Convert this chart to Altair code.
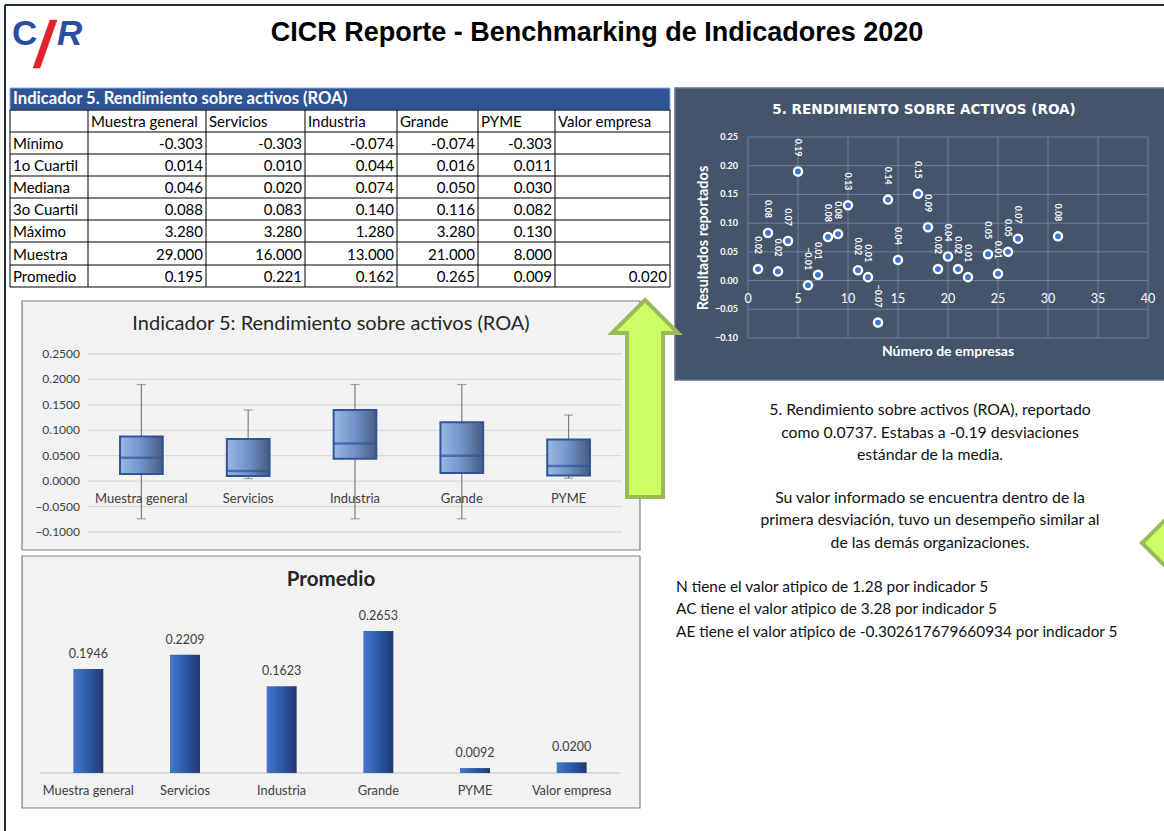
import altair as alt
import pandas as pd

W, H = 1164, 831
CAL = "Lato"
ARIAL = "Liberation Sans"

# ---------------- data ----------------
grupos = ["Muestra general", "Servicios", "Industria", "Grande", "PYME"]
col_headers = grupos + ["Valor empresa"]
row_labels = ["Mínimo", "1o Cuartil", "Mediana", "3o Cuartil", "Máximo", "Muestra", "Promedio"]
minimo = [-0.303, -0.303, -0.074, -0.074, -0.303]
cuartil1 = [0.014, 0.010, 0.044, 0.016, 0.011]
mediana = [0.046, 0.020, 0.074, 0.050, 0.030]
cuartil3 = [0.088, 0.083, 0.140, 0.116, 0.082]
maximo = [3.280, 3.280, 1.280, 3.280, 0.130]
muestra = [29, 16, 13, 21, 8]
promedio_tabla = [0.195, 0.221, 0.162, 0.265, 0.009]
valor_empresa_tabla = 0.020

bigote_inf = [-0.074, 0.005, -0.074, -0.074, 0.006]
bigote_sup = [0.19, 0.14, 0.19, 0.19, 0.13]
box_ticks = [-0.10, -0.05, 0.0, 0.05, 0.10, 0.15, 0.20, 0.25]

prom_cats = grupos + ["Valor empresa"]
prom_vals = [0.1946, 0.2209, 0.1623, 0.2653, 0.0092, 0.0200]

emp_num = [1, 2, 3, 4, 5, 6, 7, 8, 9, 10, 11, 12, 13, 14, 15, 17, 18, 19, 20, 21, 22, 24, 25, 26, 27, 31]
emp_val = [0.020, 0.083, 0.016, 0.069, 0.190, -0.008, 0.010, 0.076, 0.081, 0.131, 0.018, 0.006, -0.073,
           0.141, 0.036, 0.151, 0.093, 0.020, 0.042, 0.020, 0.006, 0.046, 0.012, 0.050, 0.073, 0.077]
sc_xticks = [0, 5, 10, 15, 20, 25, 30, 35, 40]
sc_yticks = [-0.10, -0.05, 0.0, 0.05, 0.10, 0.15, 0.20, 0.25]

titulo = "CICR Reporte - Benchmarking de Indicadores 2020"
tabla_titulo = "Indicador 5.  Rendimiento sobre activos (ROA)"
box_titulo = "Indicador 5: Rendimiento sobre activos (ROA)"
bar_titulo = "Promedio"
sc_titulo = "5. RENDIMIENTO SOBRE ACTIVOS (ROA)"
sc_xtitle = "Número de empresas"
sc_ytitle = "Resultados reportados"
texto_centro = ["5. Rendimiento sobre activos (ROA), reportado",
                "como 0.0737. Estabas a -0.19 desviaciones",
                "estándar de la media.",
                "Su valor informado se encuentra dentro de la",
                "primera desviación, tuvo un desempeño similar al",
                "de las demás organizaciones."]
texto_atipicos = ["N tiene el valor atipico de 1.28 por indicador 5",
                  "AC tiene el valor atipico de 3.28 por indicador 5",
                  "AE tiene el valor atipico de -0.302617679660934 por indicador 5"]

# ---------------- layout ----------------
col_edges = [10, 88, 206, 305, 397, 478, 555, 670]
row_edges = [110, 132, 154, 176, 198, 220, 242, 265, 287]


def PXs():
    return alt.Scale(domain=[0, W], range=[0, W], nice=False, zero=False)


def PYs():
    return alt.Scale(domain=[0, H], range=[0, H], nice=False, zero=False)


def ptext(rows, **kw):
    df = pd.DataFrame(rows, columns=["x", "y", "t"])
    base = dict(font=CAL, fontSize=14, color="#000000", baseline="middle", align="left")
    base.update(kw)
    return alt.Chart(df).mark_text(**base).encode(
        x=alt.X("x:Q", scale=PXs(), axis=None),
        y=alt.Y("y:Q", scale=PYs(), axis=None),
        text="t:N")


def prect(rows, **kw):
    df = pd.DataFrame(rows, columns=["x0", "y0", "x1", "y1"])
    return alt.Chart(df).mark_rect(**kw).encode(
        x=alt.X("x0:Q", scale=PXs(), axis=None), x2="x1:Q",
        y=alt.Y("y0:Q", scale=PYs(), axis=None), y2="y1:Q")


def prule(rows, **kw):
    df = pd.DataFrame(rows, columns=["x0", "y0", "x1", "y1"])
    return alt.Chart(df).mark_rule(**kw).encode(
        x=alt.X("x0:Q", scale=PXs(), axis=None), x2="x1:Q",
        y=alt.Y("y0:Q", scale=PYs(), axis=None), y2="y1:Q")


def pshape(x, y, path, size, **kw):
    df = pd.DataFrame({"x": [x], "y": [y]})
    return alt.Chart(df).mark_point(shape=path, size=size, filled=True, opacity=1, **kw).encode(
        x=alt.X("x:Q", scale=PXs(), axis=None),
        y=alt.Y("y:Q", scale=PYs(), axis=None))


layers = []

# page border
layers.append(prule([(5, 5, W, 5), (5, 5, 5, H)], color="#1D2B3A", strokeWidth=2))

# logo + title
layers.append(ptext([(12, 45, "C")], font=ARIAL, fontSize=35, fontWeight="bold",
                    color="#2B4FA0", baseline="alphabetic"))
layers.append(pshape(45, 44, "M0.2,-0.96 L0.48,-0.96 L-0.2,0.96 L-0.48,0.96 Z", 2500,
                     fill="#E3202B", stroke="#E3202B", strokeWidth=0.5))
layers.append(ptext([(57, 45, "R")], font=ARIAL, fontSize=35, fontWeight="bold", fontStyle="italic",
                    color="#2B4FA0", baseline="alphabetic"))
layers.append(ptext([(597, 33, titulo)], font=ARIAL, fontSize=27, fontWeight="bold", align="center"))

# ---------------- table ----------------
layers.append(prect([(col_edges[0], 88, col_edges[-1], row_edges[0])], fill="#2F5496",
                    stroke="#8EA9DB", strokeWidth=1))
layers.append(ptext([(col_edges[0] + 3, 99, tabla_titulo)], fontSize=16.6, fontWeight="bold", color="#FFFFFF"))
grid_rows = [(col_edges[0], r, col_edges[-1], r) for r in row_edges]
grid_rows += [(c, row_edges[0], c, row_edges[-1]) for c in col_edges]
layers.append(prule(grid_rows, color="#000000", strokeWidth=1))

hdr = [(col_edges[i + 1] + 3, (row_edges[0] + row_edges[1]) / 2 + 1, h) for i, h in enumerate(col_headers)]
lab = [(col_edges[0] + 3, (row_edges[i + 1] + row_edges[i + 2]) / 2 + 1, r) for i, r in enumerate(row_labels)]
layers.append(ptext(hdr + lab, fontSize=15))

series = [minimo, cuartil1, mediana, cuartil3, maximo, muestra, promedio_tabla]
nums = []
for i, vals in enumerate(series):
    yc = (row_edges[i + 1] + row_edges[i + 2]) / 2 + 1
    for j, v in enumerate(vals):
        nums.append((col_edges[j + 2] - 3, yc, f"{v:.3f}"))
nums.append((col_edges[-1] - 3, (row_edges[-2] + row_edges[-1]) / 2 + 1, f"{valor_empresa_tabla:.3f}"))
layers.append(ptext(nums, fontSize=15, align="right"))

# ---------------- panels ----------------
layers.append(prect([(22, 301, 640, 550), (22, 556, 640, 808)], fill="#F2F2F2",
                    stroke="#7F7F7F", strokeWidth=1.2))
layers.append(prect([(675, 88, W + 2, 380)], fill="#44546A", stroke="#5E7291", strokeWidth=1.5))

# ---------------- box plot ----------------
def BXX():
    return alt.Scale(domain=grupos, range=[88, 622], paddingInner=0.6, paddingOuter=0.3)


def BXY():
    return alt.Scale(domain=[-0.10, 0.25], range=[532, 354], nice=False, zero=False)


layers.append(ptext([(331, 324, box_titulo)], fontSize=20, align="center", color="#262626"))
btk = pd.DataFrame({"v": box_ticks})
layers.append(alt.Chart(btk).mark_rule(color="#D9D9D9", strokeWidth=1.3).encode(
    y=alt.Y("v:Q", scale=BXY(), axis=None), x=alt.value(88), x2=alt.value(622)))
layers.append(alt.Chart(btk).mark_text(align="right", baseline="middle", font=CAL, fontSize=12,
                                       color="#404040").encode(
    y=alt.Y("v:Q", scale=BXY(), axis=None), x=alt.value(80), text=alt.Text("v:Q", format=".4f")))

box_df = pd.DataFrame({"g": grupos, "lo": bigote_inf, "hi": bigote_sup,
                       "q1": cuartil1, "med": mediana, "q3": cuartil3})
layers.append(alt.Chart(box_df).mark_rule(color="#7F7F7F", strokeWidth=1.2).encode(
    x=alt.X("g:N", scale=BXX(), axis=None), y=alt.Y("lo:Q", scale=BXY(), axis=None), y2="hi:Q"))
caps = pd.DataFrame({"g": grupos * 2, "v": bigote_inf + bigote_sup})
layers.append(alt.Chart(caps).mark_tick(color="#7F7F7F", size=9, thickness=1.2).encode(
    x=alt.X("g:N", scale=BXX(), axis=None), y=alt.Y("v:Q", scale=BXY(), axis=None)))
box_grad = alt.Gradient(gradient="linear",
                        stops=[alt.GradientStop(color="#9BB9E6", offset=0),
                               alt.GradientStop(color="#7092C8", offset=0.5),
                               alt.GradientStop(color="#485C82", offset=1)],
                        x1=0, x2=1, y1=0, y2=0)
layers.append(alt.Chart(box_df).mark_bar(fill=box_grad, stroke="#2F5597", strokeWidth=2).encode(
    x=alt.X("g:N", scale=BXX(), axis=None), y=alt.Y("q1:Q", scale=BXY(), axis=None), y2="q3:Q"))
layers.append(alt.Chart(box_df).mark_tick(color="#2F5597", size=43, thickness=2.5).encode(
    x=alt.X("g:N", scale=BXX(), axis=None), y=alt.Y("med:Q", scale=BXY(), axis=None)))
layers.append(alt.Chart(box_df).mark_text(font=CAL, fontSize=13, color="#404040", baseline="middle").encode(
    x=alt.X("g:N", scale=BXX(), axis=None), y=alt.value(499), text="g:N"))

# ---------------- bar chart ----------------
def BRX():
    return alt.Scale(domain=prom_cats, range=[40, 620], paddingInner=0.69, paddingOuter=0.345)


def BRY():
    return alt.Scale(domain=[0, 0.30], range=[773, 612.5], nice=False, zero=True)


layers.append(ptext([(331, 580, bar_titulo)], fontSize=20.5, fontWeight="bold", align="center", color="#262626"))
bar_df = pd.DataFrame({"c": prom_cats, "v": prom_vals})
bar_grad = alt.Gradient(gradient="linear",
                        stops=[alt.GradientStop(color="#4577CF", offset=0),
                               alt.GradientStop(color="#2E58A8", offset=0.5),
                               alt.GradientStop(color="#1F3A70", offset=1)],
                        x1=0, x2=1, y1=0, y2=0)
layers.append(alt.Chart(bar_df).mark_rule(color="#D9D9D9", strokeWidth=1.2).encode(
    y=alt.value(773), x=alt.value(40), x2=alt.value(620)))
layers.append(alt.Chart(bar_df).mark_bar(fill=bar_grad).encode(
    x=alt.X("c:N", scale=BRX(), axis=None), y=alt.Y("v:Q", scale=BRY(), axis=None)))
layers.append(alt.Chart(bar_df).mark_text(font=CAL, fontSize=12.5, color="#404040", baseline="middle",
                                          yOffset=-15).encode(
    x=alt.X("c:N", scale=BRX(), axis=None), y=alt.Y("v:Q", scale=BRY(), axis=None),
    text=alt.Text("v:Q", format=".4f")))
layers.append(alt.Chart(bar_df).mark_text(font=CAL, fontSize=12.8, color="#404040", baseline="middle").encode(
    x=alt.X("c:N", scale=BRX(), axis=None), y=alt.value(791), text="c:N"))

# ---------------- scatter ----------------
def SCX():
    return alt.Scale(domain=[0, 40], range=[748, 1148], nice=False, zero=False)


def SCY():
    return alt.Scale(domain=[-0.10, 0.25], range=[338, 137], nice=False, zero=False)


layers.append(ptext([(924, 110, sc_titulo)], font="DejaVu Sans", fontSize=13.6, fontWeight="bold",
                    align="center", color="#FFFFFF"))
sxt = pd.DataFrame({"v": sc_xticks})
syt = pd.DataFrame({"v": sc_yticks})
layers.append(alt.Chart(sxt).mark_rule(color="#76849A", strokeWidth=0.9).encode(
    x=alt.X("v:Q", scale=SCX(), axis=None), y=alt.value(137), y2=alt.value(338)))
layers.append(alt.Chart(syt).mark_rule(color="#76849A", strokeWidth=0.9).encode(
    y=alt.Y("v:Q", scale=SCY(), axis=None), x=alt.value(748), x2=alt.value(1148)))
layers.append(alt.Chart(sxt).mark_text(font=CAL, fontSize=12.5, color="#FFFFFF", baseline="middle").encode(
    x=alt.X("v:Q", scale=SCX(), axis=None), y=alt.value(299), text="v:Q"))
layers.append(alt.Chart(syt).mark_text(font=CAL, fontSize=9, fontWeight="bold", color="#FFFFFF",
                                       align="right", baseline="middle").encode(
    y=alt.Y("v:Q", scale=SCY(), axis=None), x=alt.value(738), text=alt.Text("v:Q", format=".2f")))
layers.append(ptext([(948, 352, sc_xtitle)], fontSize=14, fontWeight="bold", align="center", color="#FFFFFF"))
layers.append(ptext([(704, 238, sc_ytitle)], fontSize=14.5, fontWeight="bold", align="center",
                    color="#FFFFFF", angle=270))
sc_df = pd.DataFrame({"n": emp_num, "v": emp_val})
layers.append(alt.Chart(sc_df).mark_point(shape="circle", filled=True, fill="#3F72CF", stroke="#FFFFFF",
                                          strokeWidth=2.4, size=66, opacity=1, fillOpacity=1,
                                          strokeOpacity=1).encode(
    x=alt.X("n:Q", scale=SCX(), axis=None), y=alt.Y("v:Q", scale=SCY(), axis=None)))
layers.append(alt.Chart(sc_df).mark_text(font=CAL, fontSize=9, fontWeight="bold", color="#FFFFFF",
                                         angle=90, align="right", baseline="middle", yOffset=-15).encode(
    x=alt.X("n:Q", scale=SCX(), axis=None), y=alt.Y("v:Q", scale=SCY(), axis=None),
    text=alt.Text("v:Q", format=".2f")))

# ---------------- commentary ----------------
cy = [410, 433, 455, 498, 520, 543]
layers.append(ptext([(930, y, t) for y, t in zip(cy, texto_centro)], fontSize=15.8, align="center",
                    color="#111111"))
ay = [587, 609, 632]
layers.append(ptext([(676, y, t) for y, t in zip(ay, texto_atipicos)], fontSize=15.4, color="#111111"))

# ---------------- arrows ----------------
layers.append(pshape(645, 400,
                     "M0,-1 L0.33,-0.67 L0.18,-0.67 L0.18,0.97 L-0.18,0.97 L-0.18,-0.67 L-0.33,-0.67 Z",
                     40000, fill="#CCFF66", stroke="#9BBB59", strokeWidth=4))
layers.append(pshape(1170, 543,
                     "M-0.56,0 L0,-0.56 L0.6,-0.56 L0.6,0.56 L0,0.56 Z",
                     10000, fill="#CCFF66", stroke="#9BBB59", strokeWidth=4))

chart = alt.layer(*layers).resolve_scale(x="independent", y="independent").properties(
    width=W, height=H, padding=0, background="#FFFFFF",
    autosize=alt.AutoSizeParams(type="none")
).configure_view(stroke=None)

chart.save("out.html", embed_options={"renderer": "svg", "actions": False})
